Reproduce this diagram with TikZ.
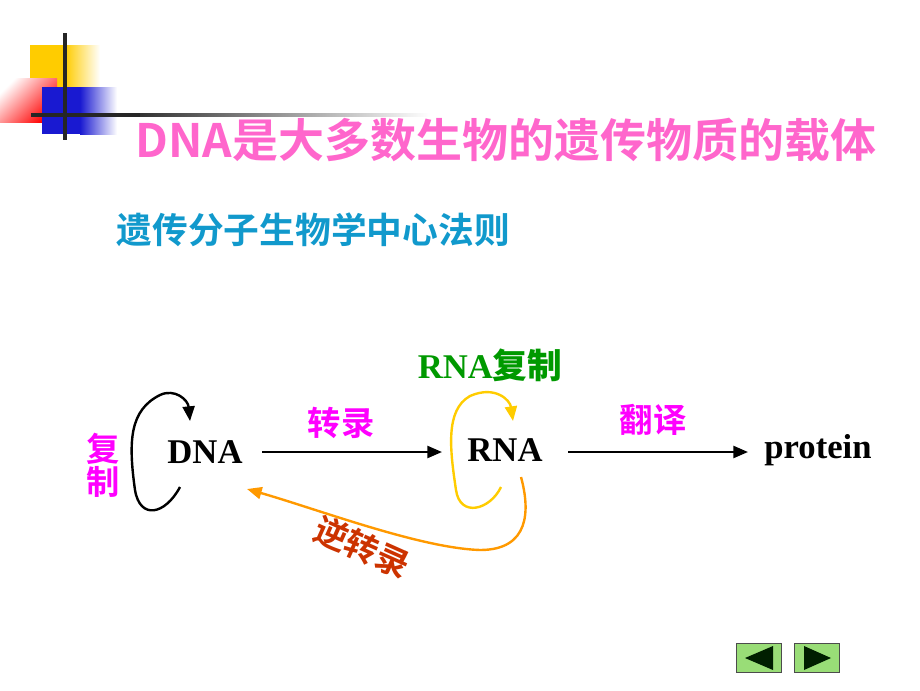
\documentclass[tikz,border=0pt]{standalone}
\usepackage{fontspec}
\setmainfont{Liberation Serif}
\newfontfamily\cjk{Noto Sans CJK SC}
\newfontfamily\cjkb{Noto Sans CJK SC Bold}
\usetikzlibrary{arrows.meta}
\definecolor{tpink}{HTML}{FF66CC}
\definecolor{tblue}{HTML}{1199CC}
\definecolor{mag}{HTML}{FF00FF}
\definecolor{gr}{HTML}{009900}
\definecolor{yel}{HTML}{FFCC00}
\definecolor{org}{HTML}{FF9900}
\definecolor{rust}{HTML}{CC3300}
\definecolor{btn}{HTML}{99DD77}
\begin{document}
\begin{tikzpicture}[x=0.75pt,y=-0.75pt,
  mol/.style={font=\fontsize{26}{28}\selectfont\bfseries},
  lab/.style={font=\cjkb\fontsize{25}{27}\selectfont},
  arr/.style={line width=1.8pt,-{Triangle[length=11pt,width=9pt]}}]
\useasboundingbox (0,0) rectangle (920,690);
% decoration
\fill[yel] (30,45) rectangle (65,87);
\shade[left color=yel,right color=white] (65,45) rectangle (100,87);
\shade[shading=axis,left color=white,right color=red,shading angle=45] (0,78) rectangle (57,122);
\fill[blue!80!black!90] (42,87) rectangle (80,134);
\shade[left color=blue!80!black!90,right color=white] (80,87) rectangle (117,134);
\draw[line width=3pt,black!85] (65,33) -- (65,140);
\draw[line width=3pt,black!85] (31,115) -- (140,115);
\shade[left color=black!80,right color=white] (140,113.5) rectangle (430,116.5);
% titles
\node (t1) at (506,140) {\cjkb\fontsize{34.5}{36}\selectfont\color{tpink}DNA是大多数生物的遗传物质的载体};
\node[anchor=west] (t2) at (112,230) {\cjkb\fontsize{26.8}{28}\selectfont\color{tblue}遗传分子生物学中心法则};
% molecules
\node[mol] (dna) at (205,452) {DNA};
\node[mol] (rna) at (505,450) {RNA};
\node[mol] (pro) at (818,450) {protein};
% labels
\node[font=\fontsize{26}{28}\selectfont\bfseries,text=gr] (rr) at (490,365) {RNA{\cjkb 复制}};
\node[lab,text=mag] (l1) at (341,423) {转录};
\node[lab,text=mag] (l2) at (653,420) {翻译};
\node[lab,text=mag,align=center,inner sep=0pt] (l3) at (103,465) {复\\[-2pt]制};
\node[lab,text=rust,rotate=-24] (l4) at (362,547) {逆转录};
% arrows
\coordinate (a1) at (262,452); \coordinate (a2) at (442,452);
\coordinate (b1) at (568,452); \coordinate (b2) at (748,452);
\draw[arr] (a1) -- (a2);
\draw[arr] (b1) -- (b2);
\coordinate (c1) at (180,487); \coordinate (c2) at (190,421);
\draw[arr] (c1) .. controls (165,515) and (140,520) .. (135,490)
  .. controls (128,440) and (130,410) .. (160,395)
  .. controls (175,388) and (188,400) .. (c2);
\coordinate (d1) at (501,487); \coordinate (d2) at (513,421);
\draw[arr,yel] (d1) .. controls (490,510) and (460,518) .. (456,490)
  .. controls (450,450) and (445,410) .. (470,396)
  .. controls (495,385) and (510,400) .. (d2);
\coordinate (e1) at (521,477); \coordinate (e2) at (247,489);
\draw[arr,org] (e1) .. controls (530,510) and (530,550) .. (480,550)
  .. controls (420,548) and (320,510) .. (e2);
% buttons
\node[draw=black!70,fill=btn,minimum width=34pt,minimum height=22pt] (bp) at (759,658) {};
\node[draw=black!70,fill=btn,minimum width=34pt,minimum height=22pt] (bn) at (817,658) {};
\fill[black!70!green!40!black] (745,658) -- (773,646) -- (773,670) -- cycle;
\fill[black!70!green!40!black] (831,658) -- (804,646) -- (804,670) -- cycle;
\end{tikzpicture}
\end{document}
